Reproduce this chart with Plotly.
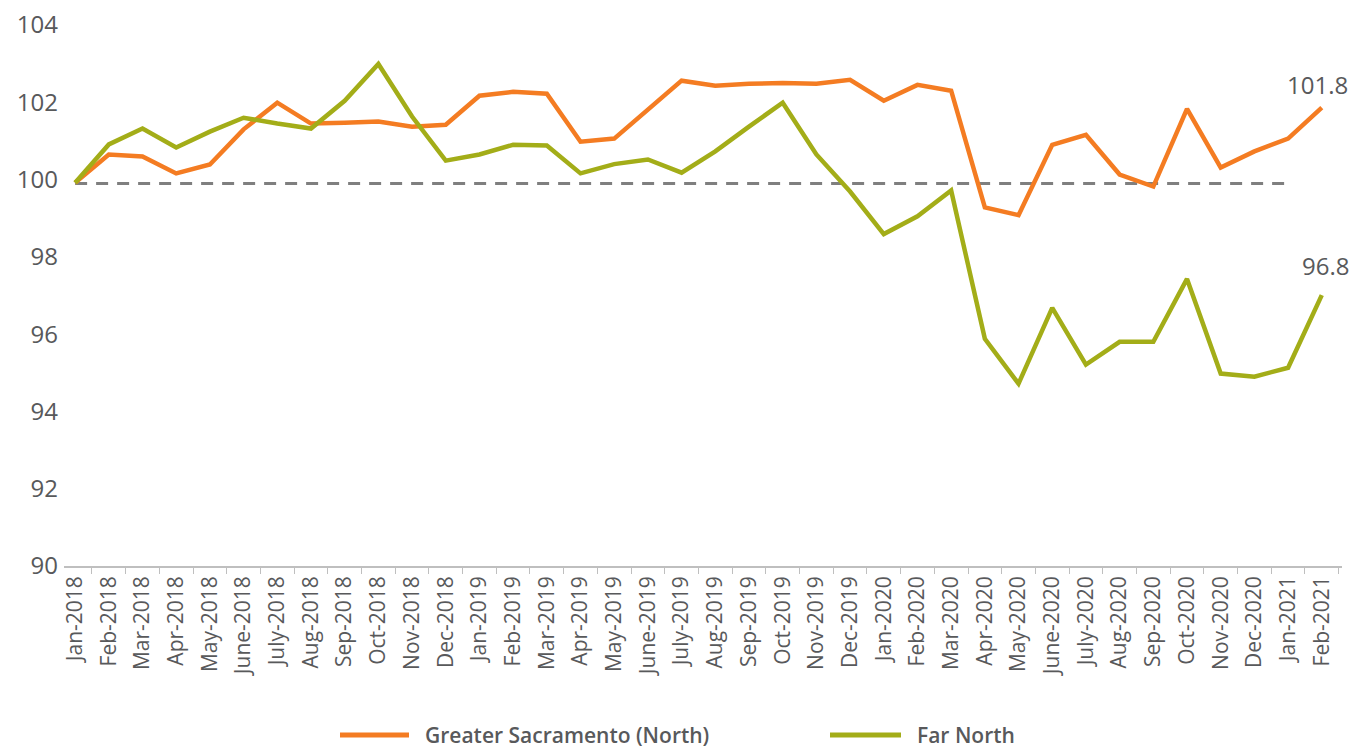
import plotly.graph_objects as go

months = ["Jan-2018", "Feb-2018", "Mar-2018", "Apr-2018", "May-2018", "June-2018",
          "July-2018", "Aug-2018", "Sep-2018", "Oct-2018", "Nov-2018", "Dec-2018",
          "Jan-2019", "Feb-2019", "Mar-2019", "Apr-2019", "May-2019", "June-2019",
          "July-2019", "Aug-2019", "Sep-2019", "Oct-2019", "Nov-2019", "Dec-2019",
          "Jan-2020", "Feb-2020", "Mar-2020", "Apr-2020", "May-2020", "June-2020",
          "July-2020", "Aug-2020", "Sep-2020", "Oct-2020", "Nov-2020", "Dec-2020",
          "Jan-2021", "Feb-2021"]

greater_sacramento = [99.92, 100.65, 100.6, 100.16, 100.39, 101.3,
                      101.99, 101.45, 101.47, 101.5, 101.37, 101.42,
                      102.17, 102.27, 102.22, 100.98, 101.06, 101.8,
                      102.56, 102.43, 102.48, 102.5, 102.48, 102.58,
                      102.04, 102.45, 102.3, 99.28, 99.08, 100.9,
                      101.16, 100.13, 99.82, 101.83, 100.31, 100.73,
                      101.06, 101.86]

far_north = [99.92, 100.91, 101.32, 100.83, 101.24, 101.6,
             101.45, 101.32, 102.04, 102.99, 101.63, 100.49,
             100.65, 100.9, 100.88, 100.16, 100.4, 100.52,
             100.18, 100.73, 101.37, 101.99, 100.65, 99.69,
             98.59, 99.05, 99.72, 95.88, 94.72, 96.68,
             95.21, 95.8, 95.8, 97.43, 94.98, 94.9,
             95.13, 97.01]

series_names = ["Greater Sacramento (North)", "Far North"]
baseline_value = 99.9
end_labels = ["101.8", "96.8"]
y_ticks = [90, 92, 94, 96, 98, 100, 102, 104]

ORANGE = "#F47C22"
GREEN = "#A3AD18"
TEXT = "#58595B"
FONT = "Open Sans"

# page has an 8px body margin; the figure is sized to fill the rest of the window
OFF = 8
W, H = 1366 - OFF, 749 - OFF
ML = 64 - OFF
MT = 25 - OFF
MR = 1366 - 1342
MB = H - (566 - OFF)
PW, PH = W - ML - MR, H - MT - MB


def px_x(p):
    return (p - OFF - ML) / PW


def px_y(p):
    return (H - MB - (p - OFF)) / PH


fig = go.Figure()

fig.add_trace(go.Scatter(
    x=months[:37], y=[baseline_value] * 37, mode="lines",
    line=dict(color="#7F7F7F", width=3, dash="12px,9px"),
    showlegend=False, hoverinfo="skip"))

fig.add_trace(go.Scatter(
    x=months, y=greater_sacramento, mode="lines",
    name=series_names[0], showlegend=False,
    line=dict(color=ORANGE, width=4.5)))

fig.add_trace(go.Scatter(
    x=months, y=far_north, mode="lines",
    name=series_names[1], showlegend=False,
    line=dict(color=GREEN, width=4.5)))

fig.add_annotation(x=months[-1], y=greater_sacramento[-1], text=end_labels[0],
                   showarrow=False, yshift=23, xshift=-4,
                   font=dict(family=FONT, size=24, color=TEXT))
fig.add_annotation(x=months[-1], y=far_north[-1], text=end_labels[1],
                   showarrow=False, yshift=30, xshift=4,
                   font=dict(family=FONT, size=24, color=TEXT))

# custom legend (long line swatches like the reference)
legend_items = [(series_names[0], ORANGE, 340, 409, 423),
                (series_names[1], GREEN, 830, 901, 915)]
ly = px_y(735)
for name, color, x0, x1, tx in legend_items:
    fig.add_shape(type="line", xref="paper", yref="paper",
                  x0=px_x(x0), x1=px_x(x1), y0=ly, y1=ly,
                  line=dict(color=color, width=5))
    fig.add_annotation(xref="paper", yref="paper", x=px_x(tx), y=ly,
                       xanchor="left", yanchor="middle", showarrow=False,
                       text=name,
                       font=dict(family=FONT, size=21, color=TEXT, weight=600))

fig.update_layout(
    width=W, height=H,
    margin=dict(l=ML, r=MR, t=MT, b=MB, autoexpand=False),
    plot_bgcolor="white", paper_bgcolor="white",
    font=dict(family=FONT, color=TEXT),
    showlegend=False,
    xaxis=dict(type="category", range=[-0.33, 37.6],
               showline=True, linecolor="#BFBFBF", linewidth=1.5,
               ticks="outside", tickson="boundaries", ticklen=6,
               tickcolor="#BFBFBF", tickangle=-90,
               tickfont=dict(family=FONT, size=21, color=TEXT),
               ticklabeloverflow="allow",
               showgrid=False, zeroline=False, automargin=False),
    yaxis=dict(range=[90, 104], tickvals=y_ticks, showgrid=False,
               zeroline=False, showline=False, ticks="",
               tickfont=dict(family=FONT, size=24, color=TEXT),
               ticklabeloverflow="allow", ticklabelstandoff=5,
               automargin=False),
    hovermode=False,
)

fig.write_html("out.html")
